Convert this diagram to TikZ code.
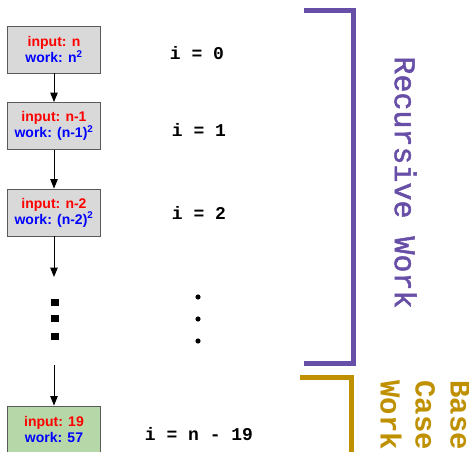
\documentclass[tikz,border=0pt]{standalone}
\usepackage{fontspec}
\usetikzlibrary{arrows.meta}
\newfontfamily\boxfont{Liberation Sans}[BoldFont={* Bold}]
\newfontfamily\codefont{Liberation Mono}[BoldFont={* Bold}]
\newfontfamily\codefontmid{Liberation Mono}[FakeBold=1.6]
\definecolor{levelgray}{HTML}{D9D9D9}
\definecolor{basegreen}{HTML}{B6D7A8}
\definecolor{edgegray}{HTML}{595959}
\definecolor{recpurple}{HTML}{674EA7}
\definecolor{basegold}{HTML}{BF9000}
\definecolor{inred}{HTML}{FF0000}
\definecolor{workblue}{HTML}{0000FF}
\tikzset{
  callbox/.style={draw=edgegray, line width=0.9pt, minimum width=93.5pt,
    minimum height=47pt, inner sep=0pt, align=center,
    font=\boxfont\bfseries\fontsize{14}{16}\selectfont},
  level/.style={font=\codefont\bfseries\fontsize{18}{20}\selectfont, inner sep=0pt},
  calledge/.style={line width=1pt, -{Triangle[length=9.5pt,width=7.5pt]}},
  bracket/.style={line width=5pt, miter limit=10},
  sidelabel/.style={rotate=-90, inner sep=0pt}
}
\begin{document}
\begin{tikzpicture}[x=1pt,y=-1pt]
\useasboundingbox (0,0) rectangle (469,452);
\clip (0,0) rectangle (469,452);

% call tree
\node[callbox, fill=levelgray] (c0) at (54,49.5)
  {\textcolor{inred}{input: n}\\\textcolor{workblue}{work: n\textsuperscript{2}}};
\node[callbox, fill=levelgray] (c1) at (54,126)
  {\textcolor{inred}{input: n-1}\\\textcolor{workblue}{work: (n-1)\textsuperscript{2}}};
\node[callbox, fill=levelgray] (c2) at (54,212.5)
  {\textcolor{inred}{input: n-2}\\\textcolor{workblue}{work: (n-2)\textsuperscript{2}}};
\node[callbox, fill=basegreen] (cb) at (54,429.5)
  {\textcolor{inred}{input: 19}\\\textcolor{workblue}{work: 57}};

\coordinate (gapTop) at (54,277);
\coordinate (gapBot) at (54,365);
\draw[calledge] (c0) -- (c1);
\draw[calledge] (c1) -- (c2);
\draw[calledge] (c2) -- (gapTop);
\draw[calledge] (gapBot) -- (cb);

% elided levels in the tree
\foreach \yy in {302,318.5,336}
  \fill (51,\yy-3.5) rectangle (59,\yy+3.5);

% level index labels
\node[level] (l0) at (197,53) {i = 0};
\node[level] (l1) at (199,129.5) {i = 1};
\node[level] (l2) at (199,213) {i = 2};
\node[level] (ln) at (199,434) {i = n - 19};
\foreach \yy in {297,319,341}
  \fill (198,\yy) circle (2.6);

% brackets
\draw[bracket, recpurple] (304,11) -- (353,11) -- (353,363) -- (304,363);
\draw[bracket, basegold] (300,377.5) -- (351,377.5) -- (351,470);

\node[sidelabel, text=recpurple, font=\codefontmid\fontsize{30}{34}\selectfont] (rw) at (405.5,182.5) {Recursive Work};
\node[sidelabel, text=basegold, anchor=north west, align=left,
  font=\codefont\bfseries\fontsize{29}{35}\selectfont] (bw) at (470,380) {Base\\Case\\Work};
\end{tikzpicture}
\end{document}
